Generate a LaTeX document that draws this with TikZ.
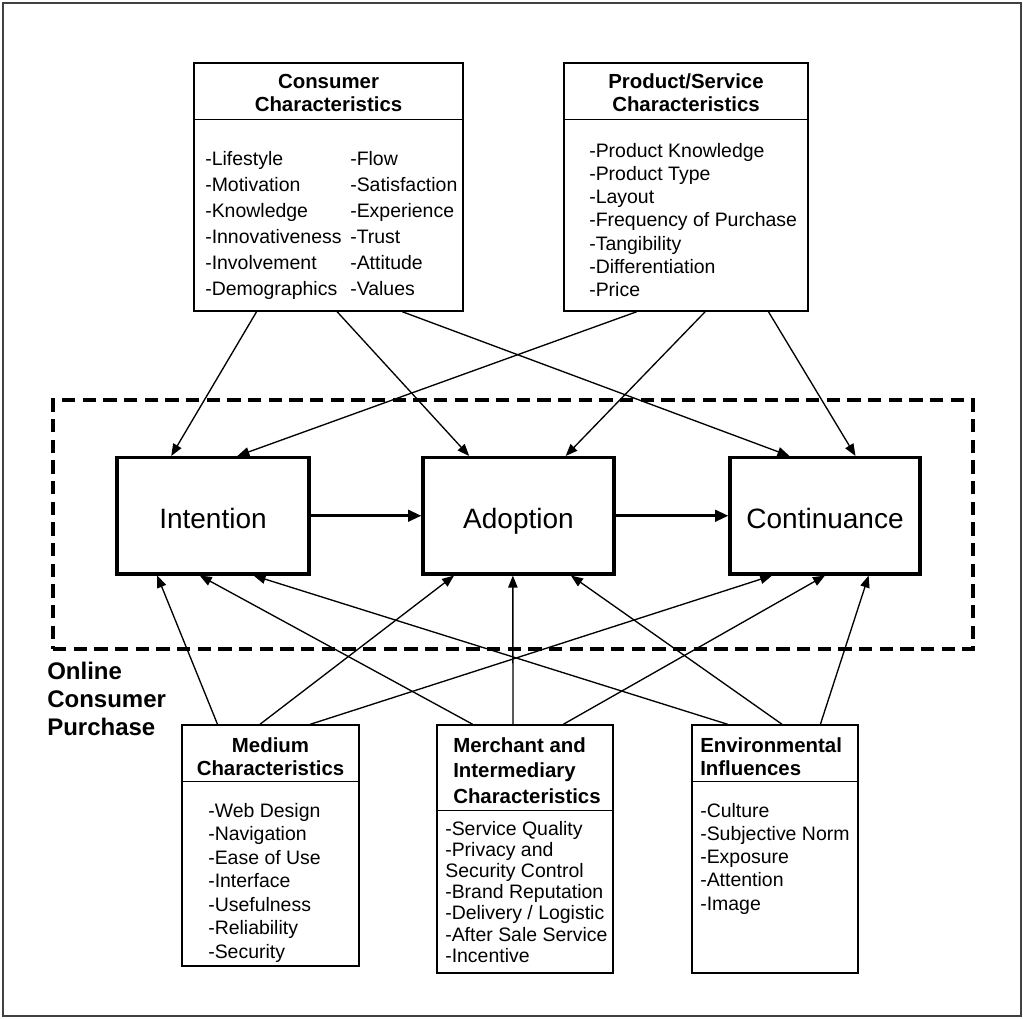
\documentclass[tikz,border=0pt]{standalone}
\usepackage{fontspec}
\setmainfont{Liberation Sans}
\usetikzlibrary{arrows.meta,calc,fit}
\begin{document}
\begin{tikzpicture}[x=0.75pt,y=-0.75pt,
  panel/.style={draw, line width=1.1pt, inner sep=0pt},
  core/.style={draw, line width=2.3pt, inner sep=0pt},
  corelabel/.style={anchor=base, inner sep=0pt, font=\fontsize{21}{24}\selectfont},
  zone/.style={draw, line width=2.6pt, dash pattern=on 10pt off 5.5pt, inner sep=0pt},
  rule/.style={line width=1.1pt},
  item/.style={anchor=base west, inner sep=0pt, font=\fontsize{14.6}{17}\selectfont},
  head/.style={anchor=base, inner sep=0pt, font=\fontsize{15.3}{17.5}\selectfont\bfseries},
  headl/.style={anchor=base west, inner sep=0pt, font=\fontsize{15.3}{17.5}\selectfont\bfseries},
  link/.style={line width=1pt, -{Triangle[length=9pt,width=7pt]}},
  flow/.style={line width=2.3pt, -{Triangle[length=10pt,width=8.5pt]}}]

\useasboundingbox (0,0) rectangle (1023,1018);
\draw[line width=1.3pt, black!75] (3,3) rectangle (1021,1016);

% outer boxes of influence factors
\node[panel, fit={(194,63) (463,311)}] (cons) {};
\node[panel, fit={(564,63) (808,311)}] (prod) {};
\node[panel, fit={(182,725) (359,966)}] (med) {};
\node[panel, fit={(437,725) (613,973)}] (mer) {};
\node[panel, fit={(692,725) (858,973)}] (env) {};

% header separators
\draw[rule] ($(cons.north west)+(0,57)$) -- ($(cons.north east)+(0,57)$);
\draw[rule] ($(prod.north west)+(0,57)$) -- ($(prod.north east)+(0,57)$);
\draw[rule] ($(med.north west)+(0,57)$) -- ($(med.north east)+(0,57)$);
\draw[rule] ($(mer.north west)+(0,86)$) -- ($(mer.north east)+(0,86)$);
\draw[rule] ($(env.north west)+(0,57)$) -- ($(env.north east)+(0,57)$);

% headers
\node[head] (consh1) at (328.5,88) {Consumer};
\node[head] (consh2) at (328.5,111) {Characteristics};
\node[head] (prodh1) at (686,88) {Product/Service};
\node[head] (prodh2) at (686,111) {Characteristics};
\node[head] (medh1) at (270.5,752) {Medium};
\node[head] (medh2) at (270.5,775) {Characteristics};
\node[headl] (merh1) at (453,752) {Merchant and};
\node[headl] (merh2) at (453,777.5) {Intermediary};
\node[headl] (merh3) at (453,803) {Characteristics};
\node[headl] (envh1) at (700,752) {Environmental};
\node[headl] (envh2) at (700,775) {Influences};

% item lists
\foreach \t [count=\i from 0] in {-Lifestyle,-Motivation,-Knowledge,-Innovativeness,-Involvement,-Demographics}
  \node[item] (ca\i) at (205,{165+26*\i}) {\t};
\foreach \t [count=\i from 0] in {-Flow,-Satisfaction,-Experience,-Trust,-Attitude,-Values}
  \node[item] (cb\i) at (350,{165+26*\i}) {\t};
\foreach \t [count=\i from 0] in {-Product Knowledge,-Product Type,-Layout,-Frequency of Purchase,-Tangibility,-Differentiation,-Price}
  \node[item] (pa\i) at (589,{157+23.33*\i}) {\t};
\foreach \t [count=\i from 0] in {-Web Design,-Navigation,-Ease of Use,-Interface,-Usefulness,-Reliability,-Security}
  \node[item] (ma\i) at (208,{817+23.5*\i}) {\t};
\foreach \t [count=\i from 0] in {-Service Quality,-Privacy and,Security Control,-Brand Reputation,-Delivery / Logistic,-After Sale Service,-Incentive}
  \node[item] (ra\i) at (445,{835+21.2*\i}) {\t};
\foreach \t [count=\i from 0] in {-Culture,-Subjective Norm,-Exposure,-Attention,-Image}
  \node[item] (ea\i) at (700,{817+23.25*\i}) {\t};

% purchase process
\node[zone, fit={(53,400) (973,649)}] (zonebox) {};
\node[core, fit={(117,457.5) (309,574)}] (int) {};
\node[core, fit={(423,457.5) (614,574)}] (ado) {};
\node[core, fit={(730,457.5) (920,574)}] (con) {};
\node[corelabel] (intl) at (213,528) {Intention};
\node[corelabel] (adol) at (518.5,528) {Adoption};
\node[corelabel] (conl) at (825,528) {Continuance};

\node[headl, font=\fontsize{18}{21}\selectfont\bfseries] (ol1) at (47,679) {Online};
\node[headl, font=\fontsize{18}{21}\selectfont\bfseries] (ol2) at (47,707) {Consumer};
\node[headl, font=\fontsize{18}{21}\selectfont\bfseries] (ol3) at (47,735) {Purchase};

\draw[flow] (int.east) -- (ado.west);
\draw[flow] (ado.east) -- (con.west);

% influences from above
\draw[link] ($(cons.south west)!0.234!(cons.south east)$) -- ($(int.north west)!0.286!(int.north east)$);
\draw[link] ($(cons.south west)!0.532!(cons.south east)$) -- ($(ado.north west)!0.246!(ado.north east)$);
\draw[link] ($(cons.south west)!0.773!(cons.south east)$) -- ($(con.north west)!0.316!(con.north east)$);
\draw[link] ($(prod.south west)!0.299!(prod.south east)$) -- ($(int.north west)!0.625!(int.north east)$);
\draw[link] ($(prod.south west)!0.578!(prod.south east)$) -- ($(ado.north west)!0.743!(ado.north east)$);
\draw[link] ($(prod.south west)!0.836!(prod.south east)$) -- ($(con.north west)!0.658!(con.north east)$);

% influences from below
\draw[link] ($(med.north west)!0.203!(med.north east)$) -- ($(int.south west)!0.214!(int.south east)$);
\draw[link] ($(med.north west)!0.441!(med.north east)$) -- ($(ado.south west)!0.168!(ado.south east)$);
\draw[link] ($(med.north west)!0.723!(med.north east)$) -- ($(con.south west)!0.226!(con.south east)$);
\draw[link] ($(mer.north west)!0.205!(mer.north east)$) -- ($(int.south west)!0.432!(int.south east)$);
\draw[link] ($(mer.north west)!0.432!(mer.north east)$) -- ($(ado.south west)!0.471!(ado.south east)$);
\draw[link] ($(mer.north west)!0.716!(mer.north east)$) -- ($(con.south west)!0.5!(con.south east)$);
\draw[link] ($(env.north west)!0.217!(env.north east)$) -- ($(int.south west)!0.708!(int.south east)$);
\draw[link] ($(env.north west)!0.542!(env.north east)$) -- ($(ado.south west)!0.770!(ado.south east)$);
\draw[link] ($(env.north west)!0.771!(env.north east)$) -- ($(con.south west)!0.726!(con.south east)$);
\end{tikzpicture}
\end{document}
